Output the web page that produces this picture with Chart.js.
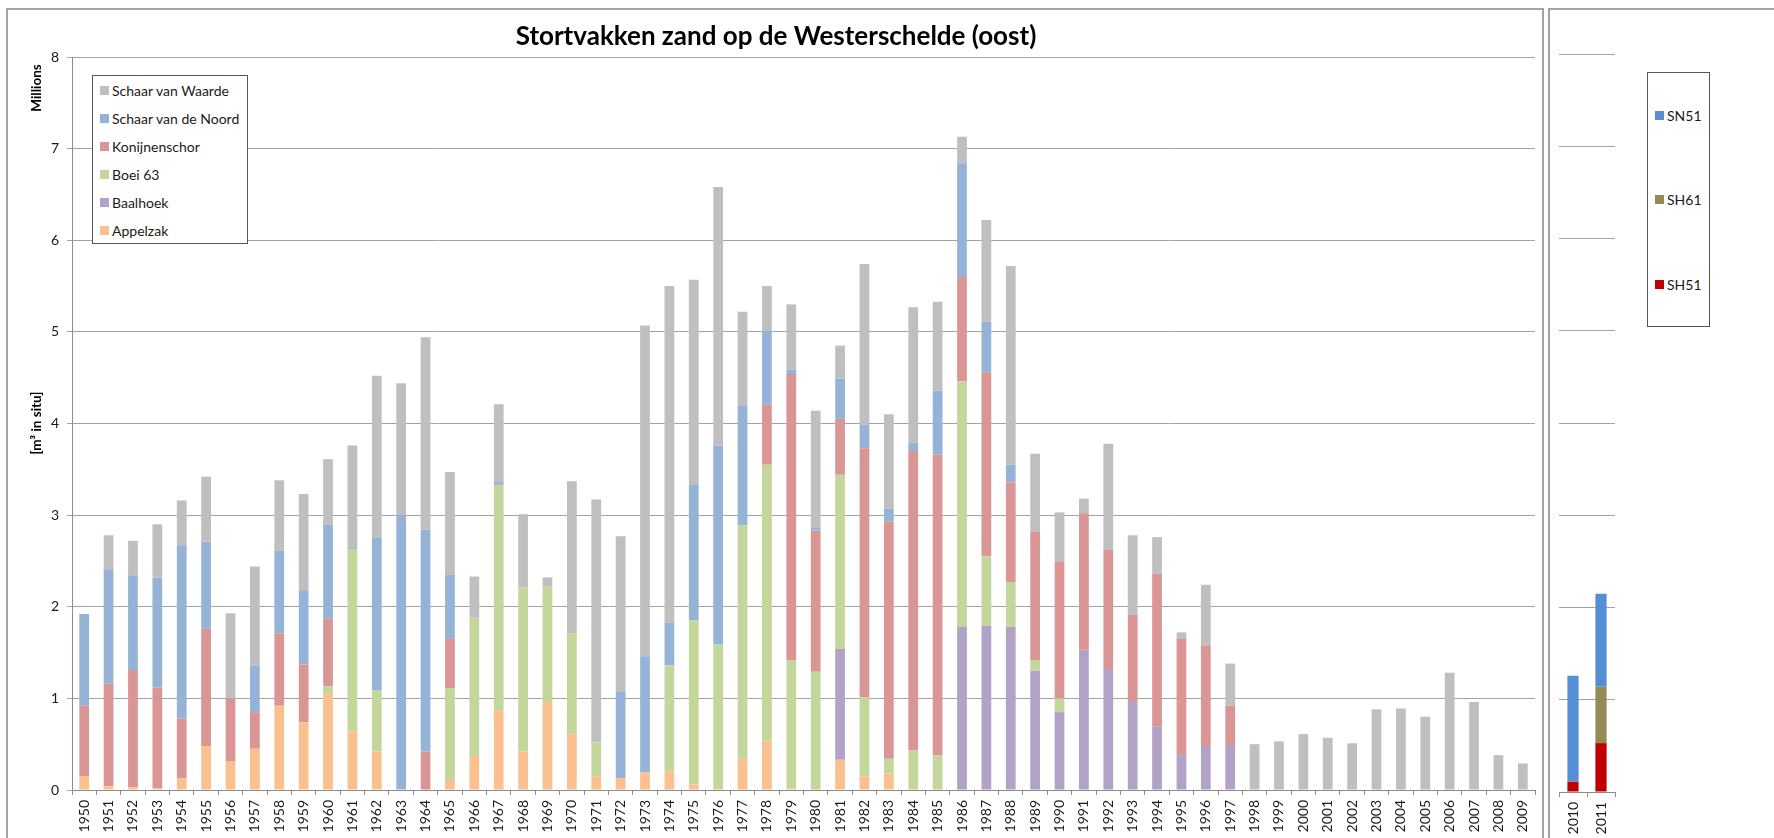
<!DOCTYPE html>
<html>
<head>
<meta charset="utf-8">
<title>Stortvakken zand op de Westerschelde (oost)</title>
<script src="https://cdn.jsdelivr.net/npm/chart.js@4.4.1/dist/chart.umd.min.js"></script>
<style>
  body { margin: 0; width: 1774px; height: 838px; overflow: hidden; background: #fff; position: relative; font-family: Lato, sans-serif; }
  .frame { position: absolute; box-sizing: border-box; border: 2px solid #a3a3a3; }
  #mainFrame { left: 6px; top: 8px; width: 1538px; height: 900px; }
  #rightFrame { left: 1548px; top: 8px; width: 300px; height: 900px; }
  canvas { position: absolute; top: 0; }
  #mainChart { left: 0; }
  #rightChart { left: 1549px; }
  .legend { position: absolute; box-sizing: border-box; border: 1px solid #555; background: #fff; font-size: 14px; color: #1a1a1a; }
  .legend .item { position: absolute; left: 7px; height: 18px; display: flex; align-items: center; white-space: nowrap; }
  .legend .sw { width: 9px; height: 9px; margin-right: 3px; }
  #legendMain { left: 92px; top: 75px; width: 156px; height: 169px; }
  #legendRight { left: 1647px; top: 72px; width: 63px; height: 255px; }
</style>
</head>
<body>
<div id="mainFrame" class="frame"></div>
<div id="rightFrame" class="frame"></div>
<canvas id="mainChart" width="1545" height="838"></canvas>
<canvas id="rightChart" width="225" height="838"></canvas>
<div id="legendMain" class="legend"></div>
<div id="legendRight" class="legend"></div>

<script>
// ***************************************************************************************************
// Gegevens (miljoen m3 in situ)

const TITLE = "Stortvakken zand op de Westerschelde (oost)";

const years = [];
for (let y = 1950; y <= 2009; y++) years.push(String(y));

const appelzak = [
  0.15, 0.04, 0.03, 0.02, 0.13, 0.48, 0.31, 0.45, 0.92, 0.74,
  1.05, 0.64, 0.42, 0, 0, 0.11, 0.37, 0.87, 0.42, 0.96,
  0.61, 0.15, 0.13, 0.19, 0.20, 0.06, 0, 0.34, 0.54, 0.02,
  0, 0.33, 0.15, 0.18, 0, 0, 0, 0, 0, 0,
  0, 0, 0, 0, 0, 0, 0, 0, 0, 0,
  0, 0, 0, 0, 0, 0, 0, 0, 0, 0
];
const baalhoek = [
  0, 0, 0, 0, 0, 0, 0, 0, 0, 0,
  0, 0, 0, 0, 0, 0, 0, 0, 0, 0,
  0, 0, 0, 0, 0, 0, 0, 0, 0, 0,
  0, 1.21, 0, 0, 0, 0, 1.78, 1.79, 1.78, 1.30,
  0.85, 1.53, 1.32, 0.97, 0.69, 0.38, 0.48, 0.48, 0, 0,
  0, 0, 0, 0, 0, 0, 0, 0, 0, 0
];
const boei63 = [
  0, 0, 0, 0, 0, 0, 0, 0, 0, 0,
  0.08, 1.99, 0.67, 0, 0, 1.00, 1.51, 2.46, 1.79, 1.26,
  1.10, 0.37, 0, 0, 1.16, 1.79, 1.59, 2.55, 3.01, 1.40,
  1.29, 1.90, 0.86, 0.16, 0.43, 0.38, 2.68, 0.76, 0.49, 0.12,
  0.15, 0, 0, 0, 0, 0, 0, 0, 0, 0,
  0, 0, 0, 0, 0, 0, 0, 0, 0, 0
];
const konijnenschor = [
  0.77, 1.12, 1.28, 1.10, 0.65, 1.28, 0.69, 0.40, 0.79, 0.63,
  0.74, 0, 0, 0, 0.42, 0.54, 0, 0, 0, 0,
  0, 0, 0, 0, 0, 0, 0, 0, 0.66, 3.12,
  1.54, 0.61, 2.72, 2.59, 3.27, 3.28, 1.14, 2.01, 1.09, 1.40,
  1.49, 1.49, 1.30, 0.94, 1.67, 1.27, 1.10, 0.44, 0, 0,
  0, 0, 0, 0, 0, 0, 0, 0, 0, 0
];
const schaarNoord = [
  1.00, 1.25, 1.03, 1.20, 1.89, 0.95, 0, 0.51, 0.90, 0.81,
  1.03, 0.01, 1.66, 3.00, 2.42, 0.70, 0, 0.03, 0, 0,
  0, 0, 0.94, 1.27, 0.47, 1.48, 2.17, 1.30, 0.80, 0.05,
  0.03, 0.44, 0.26, 0.14, 0.09, 0.70, 1.24, 0.55, 0.19, 0,
  0, 0, 0, 0, 0, 0, 0, 0, 0, 0,
  0, 0, 0, 0, 0, 0, 0, 0, 0, 0
];
const schaarWaarde = [
  0, 0.37, 0.38, 0.58, 0.49, 0.71, 0.93, 1.08, 0.77, 1.05,
  0.71, 1.12, 1.77, 1.44, 2.10, 1.12, 0.45, 0.85, 0.80, 0.10,
  1.66, 2.65, 1.70, 3.61, 3.67, 2.24, 2.82, 1.03, 0.49, 0.71,
  1.28, 0.36, 1.75, 1.03, 1.48, 0.97, 0.29, 1.11, 2.17, 0.85,
  0.54, 0.16, 1.16, 0.87, 0.40, 0.07, 0.66, 0.46, 0.50, 0.53,
  0.61, 0.57, 0.51, 0.88, 0.89, 0.80, 1.28, 0.96, 0.38, 0.29
];

// 2010-2011, nieuwe stortvakken
const yearsNew = ["2010", "2011"];
const sh51 = [0.11, 0.53];
const sh61 = [0, 0.61];
const sn51 = [1.15, 1.01];

// ***************************************************************************************************

const FONT = "Lato";
const GRID = "#a3a3a3";
const AXIS = "#8c8c8c";
const TEXT = "#1a1a1a";

function bar(label, data, color) {
    return {
        label: label,
        data: data,
        backgroundColor: color,
        borderWidth: 0,
        barPercentage: 0.4,
        categoryPercentage: 1.0
    };
}

// titel en aslabels worden op vaste plekken getekend
const fixedTexts = {
    id: 'fixedTexts',
    afterDraw(chart) {
        const ctx = chart.ctx;
        ctx.save();
        ctx.fillStyle = "#000";
        ctx.textAlign = "center";
        ctx.textBaseline = "alphabetic";
        ctx.font = "bold 26px " + FONT;
        ctx.fillText(TITLE, 776, 45);

        ctx.font = "bold 13.5px " + FONT;
        ctx.textBaseline = "middle";
        ctx.save();
        ctx.translate(37, 88);
        ctx.rotate(-Math.PI / 2);
        ctx.fillText("Millions", 0, 0);
        ctx.restore();
        ctx.save();
        ctx.translate(37, 423);
        ctx.rotate(-Math.PI / 2);
        ctx.fillText("[m\u00B3 in situ]", 0, 0);
        ctx.restore();
        ctx.restore();
    }
};

const mainChart = new Chart(document.getElementById('mainChart').getContext('2d'), {
    type: 'bar',
    data: {
        labels: years,
        datasets: [
            bar('Appelzak', appelzak, '#FAC090'),
            bar('Baalhoek', baalhoek, '#B3A2C7'),
            bar('Boei 63', boei63, '#C3D69B'),
            bar('Konijnenschor', konijnenschor, '#D99694'),
            bar('Schaar van de Noord', schaarNoord, '#95B3D7'),
            bar('Schaar van Waarde', schaarWaarde, '#BFBFBF')
        ]
    },
    options: {
        responsive: false,
        animation: false,
        layout: { padding: { top: 57, left: 0, right: 10, bottom: 0 } },
        plugins: { legend: { display: false }, title: { display: false }, tooltip: { enabled: false } },
        scales: {
            x: {
                stacked: true,
                grid: { offset: true, drawOnChartArea: false, drawTicks: true, tickLength: 5, color: AXIS },
                border: { display: true, color: AXIS },
                ticks: { autoSkip: false, maxRotation: 90, minRotation: 90, padding: 5, color: TEXT, font: { family: FONT, size: 14 } },
                afterFit: function (scale) { scale.height = 48; }
            },
            y: {
                stacked: true,
                min: 0,
                max: 8,
                grid: { color: GRID, tickLength: 5 },
                border: { display: true, color: AXIS },
                ticks: { stepSize: 1, padding: 8, color: TEXT, font: { family: FONT, size: 14 } },
                afterFit: function (scale) { scale.width = 72; }
            }
        }
    },
    plugins: [fixedTexts]
});

const rightChart = new Chart(document.getElementById('rightChart').getContext('2d'), {
    type: 'bar',
    data: {
        labels: yearsNew,
        datasets: [
            bar('SH51', sh51, '#C00000'),
            bar('SH61', sh61, '#948A54'),
            bar('SN51', sn51, '#558ED5')
        ]
    },
    options: {
        responsive: false,
        animation: false,
        layout: { padding: { top: 54, left: 10, right: 159, bottom: 0 } },
        plugins: { legend: { display: false }, title: { display: false }, tooltip: { enabled: false } },
        scales: {
            x: {
                stacked: true,
                grid: { offset: true, drawOnChartArea: false, drawTicks: true, tickLength: 5, color: AXIS },
                border: { display: true, color: AXIS },
                ticks: { autoSkip: false, maxRotation: 90, minRotation: 90, padding: 5, color: TEXT, font: { family: FONT, size: 14 } },
                afterFit: function (scale) { scale.height = 46; }
            },
            y: {
                stacked: true,
                min: 0,
                max: 8,
                grid: { color: GRID, drawTicks: false },
                border: { display: false },
                ticks: { display: false, stepSize: 1 },
                afterFit: function (scale) { scale.width = 0; }
            }
        }
    }
});

// ***************************************************************************************************
// Legenda's, bovenste reeks eerst

function buildLegend(chart, elementId, firstCenter, step) {
    const box = document.getElementById(elementId);
    const sets = chart.data.datasets.slice().reverse();
    let html = "";
    for (let i = 0; i < sets.length; i++) {
        const top = firstCenter + i * step - 9;
        html += "<div class='item' style='top:" + top + "px'><span class='sw' style='background:" +
            sets[i].backgroundColor + "'></span>" + sets[i].label + "</div>";
    }
    box.innerHTML = html;
}

buildLegend(mainChart, 'legendMain', 14, 28);
buildLegend(rightChart, 'legendRight', 42, 84.5);
</script>
</body>
</html>
